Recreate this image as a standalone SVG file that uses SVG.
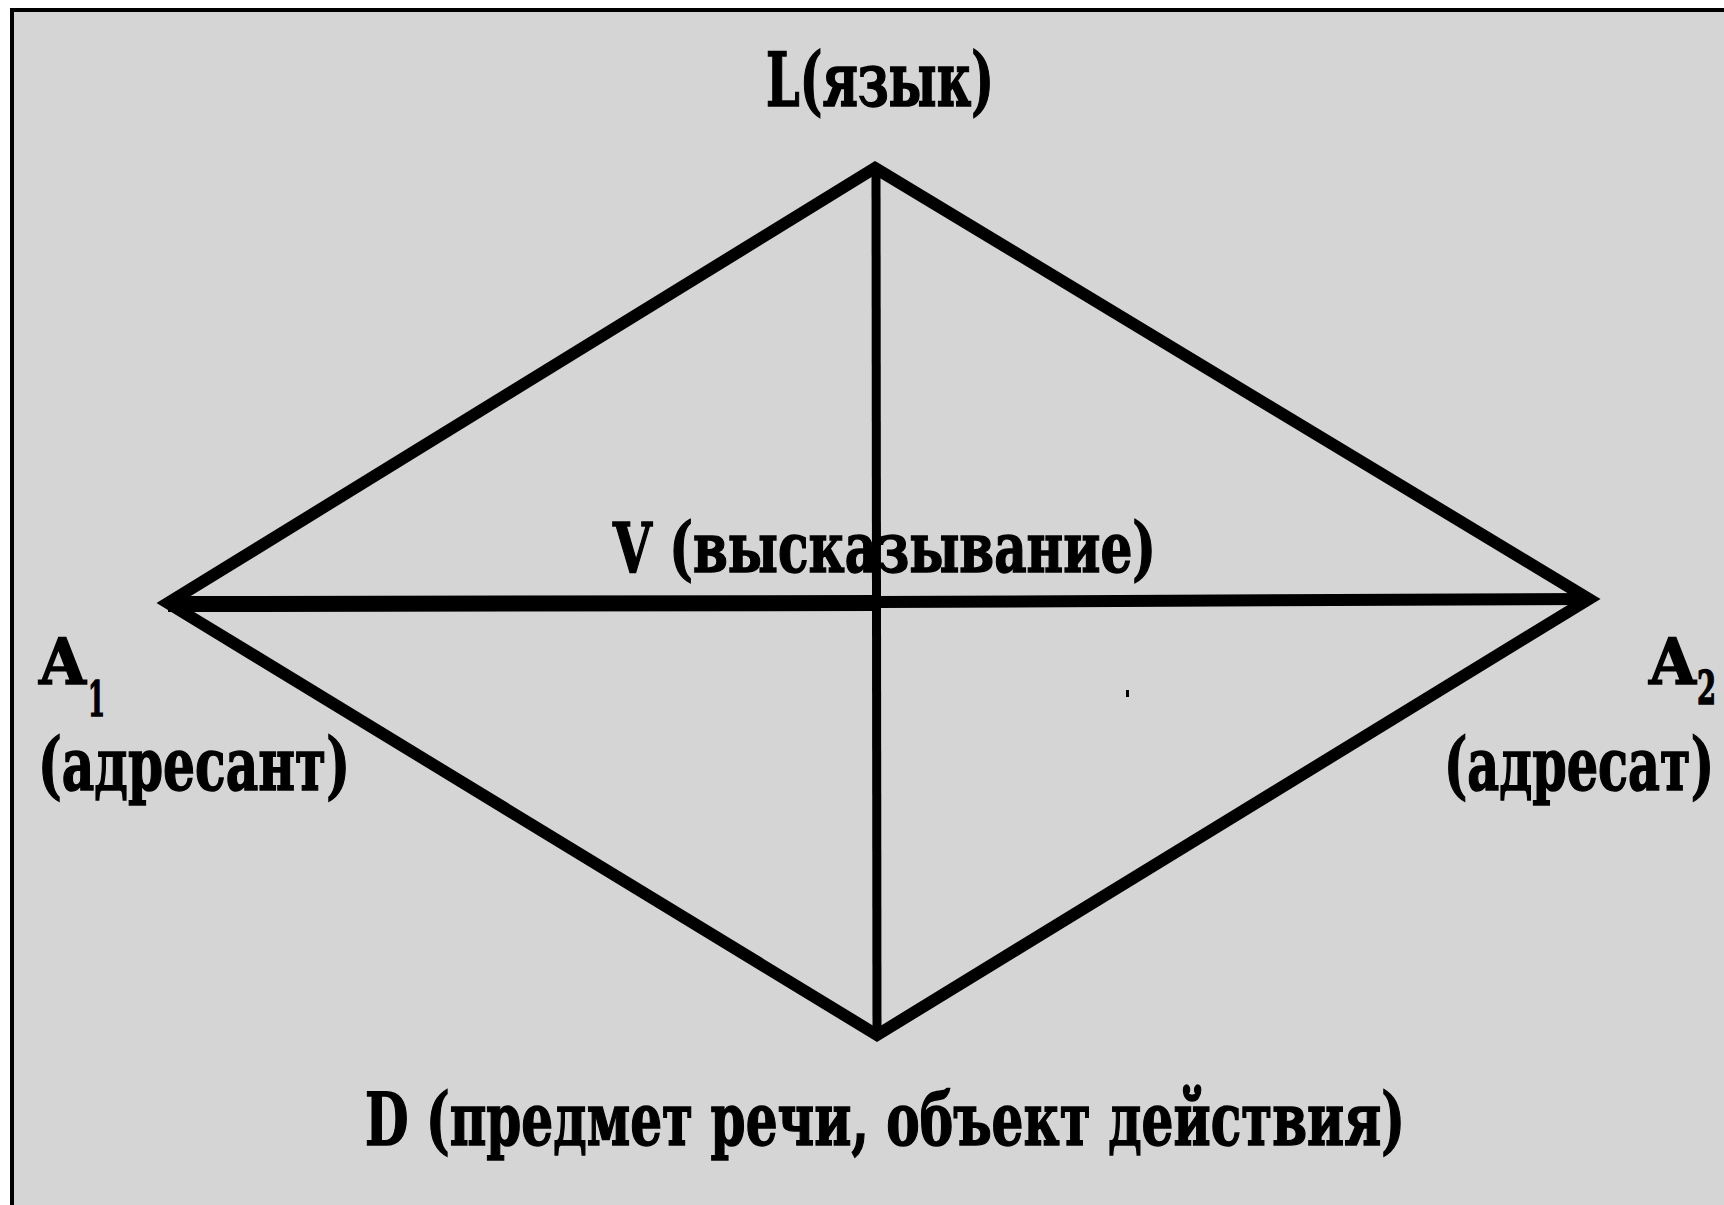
<svg xmlns="http://www.w3.org/2000/svg" width="1724" height="1205" viewBox="0 0 1724 1205">
<style>
.lbl{font-family:"DejaVu Serif","Liberation Serif",serif;font-weight:bold;fill:#000;stroke:#000;stroke-width:1.5}
.edge{fill:none;stroke:#000;stroke-linejoin:miter;stroke-linecap:butt}
</style>
<rect x="0" y="0" width="1724" height="1205" fill="#ffffff"/>
<rect x="12" y="10" width="1730" height="1210" fill="#d5d5d5" stroke="#000" stroke-width="4"/>
<g id="connectors">
<polygon class="edge" stroke-width="12" points="875,168 1589,599 877,1035 168,603"/>
<line class="edge" x1="876" y1="168" x2="877" y2="1035" stroke-width="9"/>
<line class="edge" x1="168" y1="604" x2="877" y2="603" stroke-width="16"/>
<line class="edge" x1="877" y1="602" x2="1589" y2="599" stroke-width="12"/>
<rect x="1126" y="690" width="3" height="7" fill="#000"/>
</g>
<g id="node-L">
<text class="lbl" x="766" y="106" font-size="74" textLength="228" lengthAdjust="spacingAndGlyphs">L(язык)</text>
</g>
<g id="node-V">
<text class="lbl" x="613" y="572" font-size="70" textLength="543" lengthAdjust="spacingAndGlyphs">V (высказывание)</text>
</g>
<g id="node-A1">
<text class="lbl" x="39" y="684" font-size="64" textLength="47" lengthAdjust="spacingAndGlyphs">A</text>
<text class="lbl" x="88" y="716" font-size="48" textLength="17" lengthAdjust="spacingAndGlyphs">1</text>
<text class="lbl" x="38" y="790" font-size="72" textLength="312" lengthAdjust="spacingAndGlyphs">(адресант)</text>
</g>
<g id="node-A2">
<text class="lbl" x="1649" y="684" font-size="64" textLength="47" lengthAdjust="spacingAndGlyphs">A</text>
<text class="lbl" x="1697" y="704" font-size="46" textLength="19" lengthAdjust="spacingAndGlyphs">2</text>
<text class="lbl" x="1444" y="790" font-size="72" textLength="270" lengthAdjust="spacingAndGlyphs">(адресат)</text>
</g>
<g id="node-D">
<text class="lbl" x="365" y="1145" font-size="72" textLength="1040" lengthAdjust="spacingAndGlyphs">D (предмет речи, объект действия)</text>
</g>
</svg>
